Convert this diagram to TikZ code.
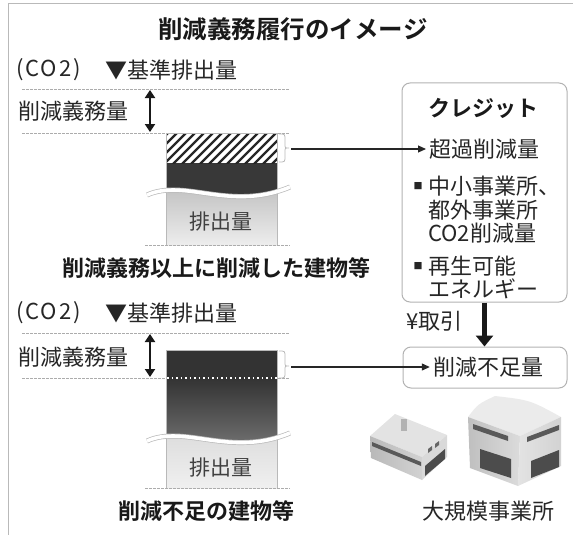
\documentclass[tikz,border=0pt]{standalone}
\usepackage{fontspec}
\setmainfont{Noto Sans CJK JP}[BoldFont={Noto Sans CJK JP Bold}]
\usetikzlibrary{arrows.meta}

\tikzset{
  lbl/.style={font=\fontsize{22}{24}\selectfont, inner sep=0pt, text=black!85},
  unit/.style={font=\fontsize{22}{24}\selectfont\addfontfeature{LetterSpace=9}, inner sep=0pt, text=black!85},
  blbl/.style={font=\fontsize{22}{24}\selectfont\bfseries, inner sep=0pt, text=black!90},
  ttl/.style={font=\fontsize{24.5}{26}\selectfont\bfseries, inner sep=0pt, text=black!90},
  barlbl/.style={font=\fontsize{21}{23}\selectfont, inner sep=0pt, text=black!75},
  bullet/.style={font=\fontsize{9}{10}\selectfont, inner sep=0pt, text=black!85},
  guide/.style={gray!65, line width=0.9pt, dash pattern=on 2.5pt off 1.5pt},
  frameline/.style={gray!55, line width=1pt},
  bracket/.style={gray!55, line width=0.8pt},
  conn/.style={black!85, line width=1.2pt, -{Triangle[width=7pt,length=8pt]}},
  bigarrow/.style={black!90, line width=5pt, -{Triangle[width=17pt,length=11pt]}},
  dblarrow/.style={black!90, line width=2.6pt,
    {Triangle[width=10pt,length=8pt]}-{Triangle[width=10pt,length=8pt]}},
  roundbox/.style={draw=gray!60, line width=1pt, rounded corners=8pt, inner sep=0pt},
  baredge/.style={draw=gray!55, line width=0.6pt},
  wave/.style={draw=gray!55, line width=0.7pt, double=white, double distance=3.6pt},
}

\begin{document}
\begin{tikzpicture}[x=1pt,y=-1pt]
\useasboundingbox (0,0) rectangle (573,535);

% outer frame (top and left edges)
\draw[frameline] (8,537) -- (8,4) -- (575,4);

% title
\node[ttl] (title) at (293,29) {削減義務履行のイメージ};

% ---------- upper case: building that cut more than required ----------
\node[unit, anchor=west] (co2a) at (16,70) {(CO2)};
\node[lbl, anchor=west] (basea) at (105,70) {▼基準排出量};
\coordinate (ga1l) at (22,89);  \coordinate (ga1r) at (290,89);
\coordinate (ga2l) at (22,133); \coordinate (ga2r) at (290,133);
\draw[guide] (ga1l) -- (ga1r);
\draw[guide] (ga2l) -- (ga2r);
\node[lbl, anchor=west] (oblia) at (18,111) {削減義務量};
\coordinate (da1) at (150,90); \coordinate (da2) at (150,132);
\draw[dblarrow] (da1) -- (da2);

% bar 1
\shade[top color=gray!62, bottom color=gray!14] (166,163) rectangle (277,245);
\begin{scope}
  \clip (166,133) rectangle (277,245);
  \fill[black!78] (140,163) -- (300,163) -- (300,187) -- (290,187)
     .. controls (230,212) and (185,178) .. (147,195) -- (140,195) -- cycle;
  \fill[white] (166,133) rectangle (277,163);
  \clip (166,133) rectangle (277,163);
  \foreach \i in {0,...,18}
    \draw[black!85, line width=2.3pt] (122+\i*9,170) -- (166+\i*9,126);
\end{scope}
\draw[baredge] (166,245) -- (166,133) -- (277,133) -- (277,245);
\draw[wave] (147,195) .. controls (185,178) and (230,212) .. (290,187);
\coordinate (grl1) at (145,245); \coordinate (grr1) at (290,245);
\draw[guide] (grl1) -- (grr1);
\node[barlbl] (em1) at (221,222) {排出量};
\draw[bracket] (279,134) .. controls (285,134) .. (285,140) -- (285,144)
   .. controls (285,148) .. (289,148) .. controls (285,148) .. (285,152)
   -- (285,156) .. controls (285,162) .. (279,162);
\coordinate (br1) at (291,149);
\node[blbl] (capa) at (216,268) {削減義務以上に削減した建物等};

% ---------- credit box ----------
\node[roundbox, minimum width=165pt, minimum height=219pt] (credit) at (484.5,192.5) {};
\node[blbl] (crtitle) at (483,108) {クレジット};
\node[lbl, anchor=west] (excess) at (429,149) {超過削減量};
\node[bullet] (b1) at (418,186) {■};
\node[lbl, anchor=west] (sme1) at (428,186) {中小事業所、};
\node[lbl, anchor=west] (sme2) at (428,210) {都外事業所};
\node[lbl, anchor=west] (sme3) at (428,233) {CO2削減量};
\node[bullet] (b2) at (418,266) {■};
\node[lbl, anchor=west] (ren1) at (428,266) {再生可能};
\node[lbl, anchor=west] (ren2) at (428,289) {エネルギー};
\draw[conn, shorten >=3pt] (br1) -- (excess.west);

% ---------- shortfall box and trade arrow ----------
\node[roundbox, minimum width=164pt, minimum height=41pt] (shortbox) at (485,367.5) {};
\node[lbl] (shorttxt) at (488,367) {削減不足量};
\draw[bigarrow] (credit.south) -- (credit.south |- shortbox.north);
\node[lbl, anchor=east] (trade) at (463,321) {¥取引};

% ---------- lower case: building short of its duty ----------
\node[unit, anchor=west] (co2b) at (16,313) {(CO2)};
\node[lbl, anchor=west] (baseb) at (105,313) {▼基準排出量};
\coordinate (gb1l) at (22,333); \coordinate (gb1r) at (290,333);
\coordinate (gb2l) at (22,378); \coordinate (gb2r) at (290,378);
\draw[guide] (gb1l) -- (gb1r);
\draw[guide] (gb2l) -- (gb2r);
\node[lbl, anchor=west] (oblib) at (18,357) {削減義務量};
\coordinate (db1) at (150,334); \coordinate (db2) at (150,377);
\draw[dblarrow] (db1) -- (db2);

% bar 2
\shade[top color=gray!42, bottom color=gray!12] (166,378) rectangle (277,488);
\begin{scope}
  \clip (166,350) rectangle (277,488);
  \shade[top color=black!80, bottom color=black!52] (140,378) -- (300,378) -- (300,433) -- (290,433)
     .. controls (230,458) and (185,424) .. (147,441) -- (140,441) -- cycle;
  \fill[black!80] (166,350) rectangle (277,378);
\end{scope}
\draw[white, line width=1.3pt, dash pattern=on 1.5pt off 3pt] (167,378) -- (277,378);
\draw[baredge] (166,488) -- (166,350) -- (277,350) -- (277,488);
\draw[wave] (147,441) .. controls (185,424) and (230,458) .. (290,433);
\coordinate (grl2) at (145,488); \coordinate (grr2) at (290,488);
\draw[guide] (grl2) -- (grr2);
\node[barlbl] (em2) at (221,468) {排出量};
\draw[bracket] (279,351) .. controls (285,351) .. (285,357) -- (285,362)
   .. controls (285,366) .. (289,366) .. controls (285,366) .. (285,370)
   -- (285,372) .. controls (285,378) .. (279,378);
\coordinate (br2) at (291,367);
\draw[conn, shorten >=3pt] (br2) -- (shorttxt.west);
\node[blbl] (capb) at (206,511) {削減不足の建物等};

% ---------- large-scale facilities ----------
% small building
\fill[gray!22] (370,436) -- (395,414) -- (447,435) -- (422,457) -- cycle;
\shade[left color=gray!55, right color=gray!35] (370,436) -- (422,457) -- (422,480) -- (371,458) -- cycle;
\fill[gray!30] (422,457) -- (447,435) -- (447,457) -- (422,480) -- cycle;
\fill[black!65] (372,442) -- (421,462) -- (421,466) -- (372,446) -- cycle;
\fill[black!70] (425,466) -- (445,449) -- (445,459) -- (425,476) -- cycle;
\fill[black!60] (428,449) -- (432,446) -- (432,450) -- (428,453) -- cycle;
\fill[black!60] (435,444) -- (439,441) -- (439,445) -- (435,448) -- cycle;
\fill[gray!60] (401,419) rectangle (407,431);
% large building
\fill[gray!16] (468,417) .. controls (478,404) .. (495,396) .. controls (530,400) .. (561,417)
   -- (520,436) -- cycle;
\shade[left color=gray!50, right color=gray!28] (468,417) -- (520,436) -- (518,486) -- (470,468) -- cycle;
\shade[left color=gray!22, right color=gray!35] (520,436) -- (561,417) -- (561,466) -- (518,486) -- cycle;
\fill[black!65] (473,424) -- (508,436) -- (508,441) -- (473,429) -- cycle;
\fill[black!65] (527,437) -- (559,425) -- (559,430) -- (527,442) -- cycle;
\fill[black!70] (480,449) -- (511,459) -- (511,478) -- (480,468) -- cycle;
\fill[black!70] (531,461) -- (559,450) -- (559,467) -- (531,478) -- cycle;
\node[lbl] (facil) at (488,511) {大規模事業所};

\end{tikzpicture}
\end{document}
